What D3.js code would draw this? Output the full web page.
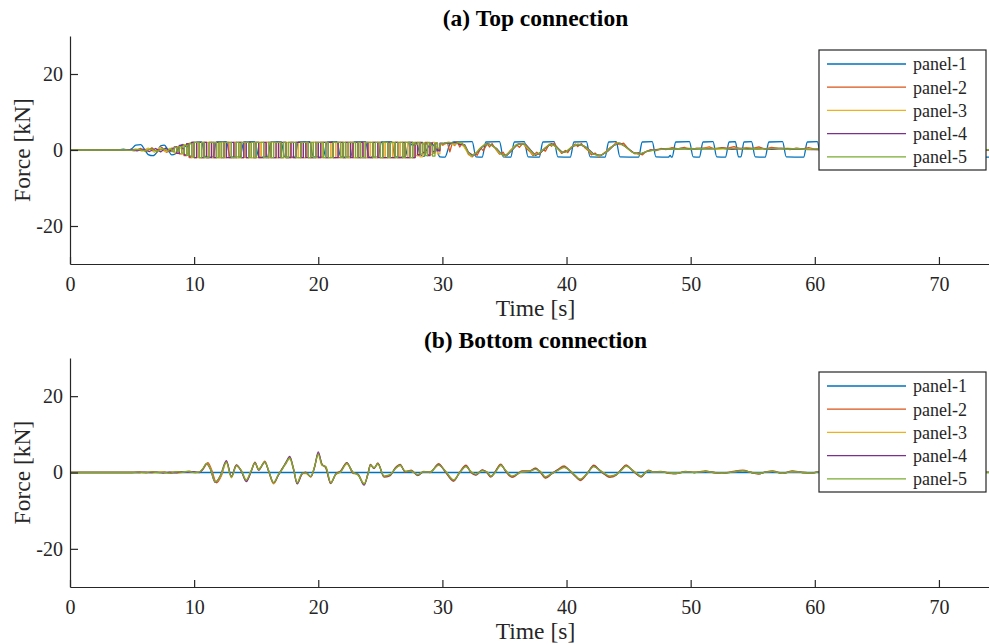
<!DOCTYPE html>
<html><head><meta charset="utf-8">
<script src="https://cdn.jsdelivr.net/npm/d3@7"></script>
<style>body{margin:0;background:#fff;overflow:hidden}</style>
</head><body><svg id="chart" width="989" height="644"></svg>
<script>
// ---------- DATA ----------
const seriesNames = ["panel-1","panel-2","panel-3","panel-4","panel-5"];
const seriesColors = ["#0072BD","#D95319","#EDB120","#7E2F8E","#77AC30"];
const panelTitles = ["(a) Top connection","(b) Bottom connection"];
const xLabel = "Time [s]";
const yLabel = "Force [kN]";
const xDomain = [0, 75];
const yDomain = [-30, 30];
const xTicks = [0,10,20,30,40,50,60,70];
const yTicks = [-20,0,20];

// top connection: panel-1 (time, force)
const top1 = [[0,0],[3.8,0],[4.3,0.2],[4.7,0],[5.0,0.4],[5.3,1.3],[5.7,1.4],[6.0,0.2],[6.3,-1.2],[6.7,-1.5],[7.0,-0.6],[7.3,1.1],[7.6,1.3],[7.9,0],[8.2,-1.3],[8.5,-1.0],[8.8,0.9],[9.1,1.5],[9.4,0.8],[9.7,1.8],[10.0,2.0],[10.6,2.1],[10.9,-1.8],[11.5,-1.9],[11.8,2.1],[12.6,2.2],[12.9,-1.8],[13.7,-1.9],[14.0,2.1],[14.9,2.2],[15.2,-1.8],[15.9,-1.9],[16.2,2.1],[17.0,2.2],[17.3,-1.8],[18.1,-1.9],[18.4,2.1],[19.3,2.2],[19.6,-1.8],[20.4,-1.9],[20.7,2.1],[21.5,2.2],[21.8,-1.8],[22.6,-1.9],[22.9,2.1],[23.8,2.2],[24.1,-1.8],[24.8,-1.9],[25.1,2.1],[25.9,2.2],[26.2,-1.8],[27.0,-1.9],[27.3,2.1],[27.6,1.2],[27.9,1.8],[28.2,-1.0],[28.5,-1.7],[28.8,0.5],[29.1,1.6],[29.5,0.3],[29.8,-1.8],[30.2,-1.9],[30.6,1.5],[30.9,2.1],[32.4,2.2],[32.7,-1.8],[33.2,-1.9],[33.5,2.1],[34.6,2.2],[34.9,-1.8],[35.5,-1.9],[35.8,2.1],[36.6,2.2],[36.9,-1.8],[37.8,-1.9],[38.1,2.1],[39.0,2.2],[39.3,-1.8],[40.3,-1.9],[40.6,2.1],[41.6,2.2],[41.9,-1.8],[43.1,-1.9],[43.4,2.1],[44.0,2.2],[44.3,-1.8],[45.8,-1.9],[46.1,2.1],[46.9,2.2],[47.2,-1.8],[48.2,-1.9],[48.35,-1.4],[48.45,-1.9],[48.5,-1.9],[48.8,2.1],[49.9,2.2],[50.2,-1.8],[50.7,-1.9],[51.0,2.1],[51.8,2.2],[52.1,-1.8],[52.8,-1.9],[53.1,2.1],[53.6,2.2],[53.85,-1.8],[54.05,-1.8],[54.3,2.1],[54.9,2.2],[55.2,-1.8],[56.0,-1.9],[56.3,2.1],[57.4,2.2],[57.7,-1.8],[59.1,-1.9],[59.4,2.1],[60.2,2.2],[60.5,-1.8],[61.3,-1.9],[61.6,2.1],[62.6,2.2],[62.9,-1.8],[63.8,-1.9],[64.1,2.1],[65.0,2.2],[65.3,-1.8],[66.2,-1.9],[66.5,2.1],[67.5,2.2],[67.8,-1.8],[68.6,-1.9],[68.9,2.1],[70.0,2.2],[70.3,-1.8],[71.1,-1.9],[71.4,2.1],[72.4,2.2],[72.7,-1.8],[75,-1.9]];

// top connection, panels 2-5: start (time, force), fast switching part (values every chatterStep from chatterStart), end (time, force)
const chatterStart = 8.0;
const chatterStep = 0.2;

const top2Start = [[0,0],[4.0,0],[4.6,0.1],[5.2,-0.2],[5.7,0.4],[6.1,-0.4],[6.6,0.6],[7.0,-0.5],[7.4,0.7],[7.8,-0.6]];
const top2Chatter = [-0.3,0.5,-0.6,0.8,-1.0,1.2,-1.5,1.7,-2,2,
 -2,2,-2,-2,2,-2,2,-2,-2,2,
 -2,2,-2,2,-2,-2,2,-2,2,-2,
 2,-2,2,-2,-2,2,-2,2,-2,2,
 -2,2,-2,-2,2,-2,2,-2,2,-2,
 -2,2,-2,2,-2,2,-2,-2,2,-2,
 2,-2,2,-2,-2,2,-2,2,-2,2,
 -2,2,-2,2,-2,-2,2,-2,2,-2,
 2,-2,2,-2,2,-2,-2,2,-2,2,
 -2,2,-2,2,-2,2,-2,2,-2,2,
 -1.5,1.8,-1,2,-1.2,1.5,-0.8,1.9,0.2,1.5,
 1.2];
const top2End = [[30.4,2],[30.6,-0.5],[30.8,1.9],[31.0,1.2],[31.2,2.2],[31.4,0.8],[31.6,1.8],[31.9,0.2],[32.1,-1.2],[32.4,-1.8],[32.6,-0.8],[32.8,-1.4],[33.1,0.5],[33.3,-0.2],[33.6,1.6],[33.8,0.8],[34.0,1.7],[34.3,0.2],[34.6,-1.1],[34.9,-0.6],[35.1,-1.7],[35.4,-0.4],[35.7,0.6],[36.0,1.3],[36.2,0.7],[36.5,1.8],[36.8,0.3],[37.1,-0.6],[37.3,-1.5],[37.6,-0.6],[37.8,-1.2],[38.1,0.1],[38.3,-0.3],[38.6,1.5],[38.8,1.0],[39.0,1.8],[39.3,0.4],[39.6,-0.9],[39.9,-0.1],[40.1,-0.7],[40.4,0.8],[40.7,1.6],[40.9,0.9],[41.2,1.7],[41.5,0.5],[41.8,-0.3],[42.0,-1.3],[42.3,-0.8],[42.6,-1.8],[42.9,-1.1],[43.2,-0.3],[43.5,0.6],[43.8,1.2],[44.0,2.0],[44.3,1.4],[44.6,1.8],[44.9,0.6],[45.2,-0.3],[45.5,-1.0],[45.8,-0.7],[46.1,-1.3],[46.4,-0.4],[46.8,0.1],[47.2,-0.2],[47.6,0.4],[48.0,0.1],[48.5,0.6],[49.0,0.3],[49.5,0.7],[50.0,0.1],[50.5,0.5],[51.0,0.4],[51.5,0.8],[52.0,0.2],[52.5,0.6],[53.0,0.5],[53.5,0.9],[54.0,0.3],[54.5,0.6],[55.0,0.4],[55.5,0.8],[56.0,0.2],[56.5,0.7],[57.0,0.5],[57.5,0.4],[58.0,0.1],[58.5,0.5],[59.0,0.3],[59.5,0.6],[60.0,0.2],[61,0.4],[62,0.1],[63,0.3],[64,0.0],[65,0.3],[66,0.1],[67,0.2],[68,-0.1],[69,0.2],[70,0.0],[71,0.2],[72,-0.1],[73,0.1],[74,0.0],[75,0.1]];

const top3Start = [[0,0],[4.2,0],[4.8,-0.1],[5.3,0.3],[5.8,-0.3],[6.3,0.5],[6.8,-0.6],[7.2,0.6],[7.7,-0.5]];
const top3Chatter = [0.4,-0.2,-0.7,0.9,0.5,-1.1,1.4,-0.9,1.8,-2,
 2,-2,-2,2,-2,2,2,-2,2,-2,
 -2,2,-2,2,2,-2,2,-2,-2,2,
 -2,2,-2,-2,2,-2,2,-2,2,2,
 -2,2,2,-2,2,-2,-2,2,-2,2,
 2,-2,2,-2,-2,2,-2,2,2,-2,
 -2,2,-2,2,2,-2,2,-2,2,-2,
 2,-2,-2,2,-2,2,-2,2,2,-2,
 -2,2,-2,-2,2,-2,2,-2,2,-2,
 2,-2,2,-2,2,-2,2,-2,1.8,-1.5,
 2,-1.8,1.5,-0.5,1.8,-1.2,2,0.8,-1,1.4,
 1.6];
const top3End = [[30.2,1.6],[30.5,2.1],[30.9,1.3],[31.3,1.9],[31.7,1.0],[32.0,-0.5],[32.3,-1.7],[32.7,-0.8],[33.0,0.4],[33.4,1.5],[33.8,1.6],[34.2,0.7],[34.6,-0.8],[35.0,-1.6],[35.4,-0.5],[35.9,1.3],[36.5,1.7],[36.9,0.4],[37.3,-1.2],[37.7,-1.1],[38.1,0.1],[38.6,1.5],[39.0,1.2],[39.5,-0.4],[39.9,-0.6],[40.4,0.8],[40.9,1.6],[41.4,1.1],[42.0,-0.8],[42.6,-1.6],[43.1,-0.8],[43.6,0.8],[44.1,1.8],[44.6,1.2],[45.2,-0.4],[45.8,-1.2],[46.4,-0.5],[46.9,0.0],[47.5,0.2],[48.2,0.4],[49.0,0.2],[49.8,0.5],[50.6,0.3],[51.4,0.5],[52.2,0.2],[53.0,0.4],[53.8,0.3],[54.6,0.5],[55.4,0.2],[56.2,0.4],[57.0,0.3],[57.8,0.5],[58.6,0.2],[59.4,0.3],[60.2,0.1],[62,0.2],[64,0.1],[66,0.2],[68,0.0],[70,0.1],[72,0.0],[75,0.1]];

const top4Start = [[0,0],[4.3,0],[4.9,0.1],[5.4,-0.2],[5.9,0.2],[6.4,-0.4],[6.9,0.4],[7.3,-0.5],[7.7,0.5]];
const top4Chatter = [-0.2,0.3,0.8,-0.9,1.2,0.4,-1.3,1.6,-1.6,2,
 -2,2,2,-2,2,-2,-2,2,-2,2,
 2,-2,2,-2,-2,2,-2,2,2,-2,
 2,-2,2,2,-2,2,-2,-2,2,-2,
 2,-2,-2,2,-2,2,2,-2,-2,2,
 -2,2,2,-2,2,-2,2,-2,-2,2,
 -2,2,2,-2,2,2,-2,-2,2,2,
 -2,2,2,-2,2,2,-2,2,-2,2,
 -2,-2,2,2,-2,2,-2,-2,2,-2,
 -2,2,-2,-2,2,-2,-2,2,-2,1.8,
 -1.2,2,-0.6,1.6,-1.5,1.9,-0.4,1.7,-0.2,1.8,
 1.5];
const top4End = [[30.2,1.9],[30.6,1.7],[31.0,2.0],[31.4,1.5],[31.8,1.4],[32.1,-0.6],[32.5,-1.5],[32.9,-0.3],[33.2,0.8],[33.6,1.7],[34.0,1.2],[34.4,0.3],[34.8,-1.2],[35.2,-1.4],[35.6,-0.1],[36.1,1.6],[36.7,1.5],[37.1,0.0],[37.5,-1.4],[37.9,-0.7],[38.3,0.5],[38.8,1.7],[39.2,0.8],[39.7,-0.7],[40.1,-0.2],[40.6,1.1],[41.1,1.4],[41.6,0.7],[42.2,-1.1],[42.8,-1.4],[43.3,-0.4],[43.8,1.2],[44.3,1.8],[44.8,0.8],[45.4,-0.7],[46.0,-1.0],[46.6,-0.2],[47.1,0.0],[47.8,0.3],[48.5,0.2],[49.3,0.4],[50.1,0.2],[50.9,0.4],[51.7,0.3],[52.5,0.5],[53.3,0.2],[54.1,0.4],[54.9,0.3],[55.7,0.4],[56.5,0.2],[57.3,0.4],[58.1,0.2],[58.9,0.3],[59.7,0.1],[61,0.2],[63,0.1],[65,0.2],[67,0.0],[69,0.1],[71,0.0],[73,0.1],[75,0.0]];

const top5Start = [[0,0],[4.0,0],[4.5,0.05],[5.0,-0.1],[5.5,0.15],[6.0,-0.2],[6.5,0.25],[7.0,-0.3],[7.5,0.3],[7.9,-0.2]];
const top5Chatter = [0.2,-0.4,0.6,-0.3,0.9,-0.8,1.2,-1.4,1.6,-1.8,
 2,2,-2,2,-2,-2,2,2,2,-2,
 2,-2,2,2,2,-2,-2,2,-2,2,
 2,2,-2,2,-2,2,2,2,-2,-2,
 2,-2,2,2,2,-2,2,-2,2,2,
 2,-2,-2,2,2,2,-2,2,-2,2,
 2,2,-2,2,-2,-2,2,2,2,-2,
 2,-2,2,2,2,-2,2,-2,-2,2,
 2,2,-2,2,2,-2,2,2,-2,2,
 2,-2,2,2,-2,2,2,-2,2,1.5,
 2,-1,1.8,-1.5,2,1.2,-1.6,1.8,0.5,1.6,
 1.8];
const top5End = [[30.2,1.8],[30.6,2.0],[31.0,1.6],[31.4,2.0],[31.8,1.2],[32.1,-0.8],[32.4,-1.6],[32.8,-0.5],[33.1,0.6],[33.5,1.6],[33.9,1.4],[34.3,0.5],[34.7,-1.0],[35.1,-1.5],[35.5,-0.3],[36.0,1.5],[36.6,1.6],[37.0,0.2],[37.4,-1.3],[37.8,-0.9],[38.2,0.3],[38.7,1.6],[39.1,1.0],[39.6,-0.6],[40.0,-0.4],[40.5,1.0],[41.0,1.5],[41.5,0.9],[42.1,-1.0],[42.7,-1.5],[43.2,-0.6],[43.7,1.0],[44.2,1.9],[44.7,1.0],[45.3,-0.6],[45.9,-1.1],[46.5,-0.3],[47.0,-0.1],[47.5,0.1],[48.0,0.3],[48.6,0.2],[49.2,0.4],[50.0,0.2],[50.8,0.4],[51.5,0.3],[52.3,0.5],[53.0,0.3],[53.8,0.5],[54.6,0.2],[55.4,0.4],[56.2,0.3],[57.0,0.5],[57.8,0.2],[58.6,0.4],[59.4,0.1],[60.2,0.3],[61,0.1],[62,0.3],[63,0.1],[64,0.2],[65,0.0],[66,0.2],[67,0.0],[68,0.2],[69,0.0],[70,0.1],[71,-0.1],[72,0.1],[73,0.0],[74,0.1],[75,0.0]];

// bottom connection (time, force)
const bot1 = [[0,0],[75,0]];
const bot2 = [[0,0],[5,0],[5.6,0.15],[6.1,-0.1],[6.6,0.2],[7.1,-0.05],[7.6,0.15],[8.1,-0.25],[8.6,0.25],[9.1,0.05],[9.6,0.35],[10.1,-0.05],[10.5,0.2],[10.8,1.2],[11.1,2.6],[11.4,0.8],[11.8,-2.7],[12.2,-0.8],[12.6,2.9],[13.0,-1.0],[13.4,2.0],[13.8,0.3],[14.2,-2.2],[14.6,0.4],[14.9,2.7],[15.2,0.6],[15.7,3.0],[16.0,0.3],[16.4,-2.9],[16.8,-0.6],[17.1,1.1],[17.4,2.3],[17.7,4.0],[18.0,1.2],[18.3,-2.9],[18.7,-0.4],[19.0,0.1],[19.4,-1.2],[19.7,1.3],[20.0,5.0],[20.3,2.2],[20.6,1.2],[21.0,-2.9],[21.4,-0.4],[21.8,0.4],[22.3,2.6],[22.8,-0.2],[23.2,-0.4],[23.7,-3.1],[24.0,-0.2],[24.2,2.1],[24.5,1.0],[24.8,2.5],[25.3,-1.2],[25.8,-0.8],[26.2,1.2],[26.6,2.1],[27.0,0.1],[27.5,0.6],[28.0,-0.8],[28.5,0.3],[29.0,0.0],[29.7,2.3],[30.2,0.3],[30.9,-2.3],[31.4,0.2],[31.9,1.9],[32.3,0.0],[32.7,-0.7],[33.2,0.7],[33.6,-0.1],[33.9,-1.2],[34.2,0.0],[34.7,2.2],[35.1,0.3],[35.6,-1.3],[36.0,-0.6],[36.4,0.4],[37.0,0.4],[37.5,1.2],[37.9,0.0],[38.3,-1.5],[38.8,-0.4],[39.3,0.8],[39.8,1.7],[40.3,0.3],[40.7,-1.0],[41.1,-2.1],[41.6,-0.6],[42.2,1.9],[42.7,0.4],[43.1,-0.6],[43.5,-1.3],[44.0,-0.7],[44.4,0.8],[44.8,2.0],[45.3,0.5],[45.7,-0.6],[46.0,-1.2],[46.3,-0.3],[46.6,0.6],[47.0,0.1],[47.6,0.3],[48.2,-0.2],[48.8,-0.3],[49.6,0.3],[50.3,0.0],[51.2,0.4],[51.9,-0.1],[52.5,-0.2],[53.3,0.2],[54.2,0.6],[54.9,0.0],[55.5,-0.4],[56.0,0.1],[56.6,0.4],[57.4,-0.2],[58.2,0.4],[59.0,0.0],[59.8,-0.1],[60.4,0.3],[61.2,-0.1],[62,0.2],[63,-0.1],[64,0.3],[65,0],[66,0.2],[67,-0.1],[68,0.1],[69,0],[70,0.1],[71,-0.1],[72,0.1],[73,0],[74,0.05],[75,0]];
const bot3 = [[0,0],[5.2,0],[5.7,-0.1],[6.2,0.1],[6.8,-0.1],[7.3,0.2],[7.8,-0.1],[8.3,0.15],[8.8,-0.15],[9.3,0.25],[9.8,0.1],[10.3,0.0],[10.7,0.8],[11.0,2.2],[11.3,1.2],[11.7,-2.4],[12.1,-1.2],[12.6,2.5],[13.0,-1.4],[13.4,1.6],[13.8,0.6],[14.2,-1.9],[14.6,0.6],[14.9,2.3],[15.2,1.0],[15.7,2.6],[16.0,0.6],[16.4,-3.0],[16.8,-0.4],[17.1,0.8],[17.4,2.6],[17.7,3.6],[18.0,0.8],[18.3,-2.6],[18.7,-0.3],[19.0,-0.3],[19.4,-1.1],[19.7,1.6],[20.0,4.7],[20.3,1.8],[20.6,1.7],[21.0,-2.6],[21.4,-0.6],[21.8,0.1],[22.3,2.2],[22.8,0.1],[23.2,-0.7],[23.7,-2.8],[24.0,-0.6],[24.2,1.8],[24.5,1.3],[24.8,2.1],[25.3,-0.9],[25.8,-0.5],[26.2,0.9],[26.6,1.8],[27.0,0.4],[27.5,0.3],[28.0,-0.5],[28.5,0.2],[29.0,0.2],[29.7,1.9],[30.2,0.6],[30.9,-1.9],[31.4,0.1],[31.9,1.5],[32.3,0.3],[32.7,-0.4],[33.2,0.4],[33.6,0.2],[33.9,-0.9],[34.2,-0.2],[34.7,1.8],[35.1,0.6],[35.6,-0.9],[36.0,-0.4],[36.4,0.2],[37.0,0.3],[37.5,0.8],[37.9,0.3],[38.3,-1.1],[38.8,-0.2],[39.3,0.5],[39.8,1.3],[40.3,0.5],[40.7,-0.7],[41.1,-1.7],[41.6,-0.4],[42.2,1.5],[42.7,0.6],[43.1,-0.3],[43.5,-0.9],[44.0,-0.5],[44.4,0.5],[44.8,1.6],[45.3,0.7],[45.7,-0.3],[46.0,-0.9],[46.3,-0.2],[46.6,0.4],[47.0,0.1],[47.6,0.2],[48.2,0.0],[48.8,-0.2],[49.6,0.2],[50.3,0.1],[51.2,0.3],[51.9,0.0],[52.5,-0.1],[53.3,0.1],[54.2,0.4],[54.9,0.1],[55.5,-0.2],[56.0,0.1],[56.6,0.3],[57.4,-0.1],[58.2,0.2],[59.0,0.0],[59.8,-0.1],[60.4,0.2],[62,0.1],[64,0.1],[66,0.1],[68,0],[70,0.1],[72,0],[75,0]];
const bot4 = [[0,0],[5.5,0],[6.0,0.1],[6.5,-0.05],[7.0,0.1],[7.5,-0.15],[8.0,0.1],[8.5,-0.1],[9.0,0.2],[9.5,0.1],[10.0,0.2],[10.4,0.0],[10.7,0.9],[11.0,2.3],[11.3,0.9],[11.7,-2.6],[12.1,-0.9],[12.6,3.1],[13.0,-1.1],[13.4,1.9],[13.8,0.4],[14.2,-2.4],[14.6,0.3],[14.9,2.6],[15.2,0.7],[15.7,2.7],[16.0,0.4],[16.4,-2.7],[16.8,-0.6],[17.1,1.0],[17.4,2.7],[17.7,4.2],[18.0,0.9],[18.3,-3.0],[18.7,-0.3],[19.0,0.0],[19.4,-1.1],[19.7,1.4],[20.0,5.4],[20.3,2.1],[20.6,1.4],[21.0,-2.8],[21.4,-0.5],[21.8,0.3],[22.3,2.5],[22.8,0.0],[23.2,-0.5],[23.7,-3.3],[24.0,-0.4],[24.2,2.0],[24.5,1.1],[24.8,2.4],[25.3,-1.1],[25.8,-0.7],[26.2,1.1],[26.6,2.0],[27.0,0.2],[27.5,0.5],[28.0,-0.7],[28.5,0.2],[29.0,0.1],[29.7,2.1],[30.2,0.4],[30.9,-2.1],[31.4,0.0],[31.9,1.7],[32.3,0.1],[32.7,-0.6],[33.2,0.6],[33.6,0.0],[33.9,-1.1],[34.2,-0.1],[34.7,2.0],[35.1,0.4],[35.6,-1.1],[36.0,-0.5],[36.4,0.3],[37.0,0.3],[37.5,1.0],[37.9,0.1],[38.3,-1.3],[38.8,-0.3],[39.3,0.7],[39.8,1.5],[40.3,0.4],[40.7,-0.9],[41.1,-1.9],[41.6,-0.5],[42.2,1.7],[42.7,0.5],[43.1,-0.5],[43.5,-1.1],[44.0,-0.6],[44.4,0.7],[44.8,1.8],[45.3,0.6],[45.7,-0.5],[46.0,-1.1],[46.3,-0.2],[46.6,0.5],[47.0,0.1],[47.6,0.2],[48.2,-0.1],[48.8,-0.3],[49.6,0.2],[50.3,0.0],[51.2,0.3],[51.9,0.0],[52.5,-0.2],[53.3,0.1],[54.2,0.5],[54.9,0.0],[55.5,-0.3],[56.0,0.1],[56.6,0.3],[57.4,-0.2],[58.2,0.3],[59.0,0.0],[59.8,-0.1],[60.4,0.2],[62,0.1],[64,0.2],[66,0.0],[68,0.1],[70,0],[72,0.1],[75,0]];
const bot5 = [[0,0],[5,0],[5.5,0.1],[6,-0.05],[6.5,0.15],[7,0],[7.5,0.1],[8,-0.2],[8.5,0.2],[9,0.1],[9.5,0.3],[10,0],[10.4,0.1],[10.7,1.0],[11.0,2.4],[11.3,1.0],[11.7,-2.5],[12.1,-1.0],[12.6,2.7],[13.0,-1.2],[13.4,1.8],[13.8,0.5],[14.2,-2.0],[14.6,0.5],[14.9,2.5],[15.2,0.8],[15.7,2.8],[16.0,0.5],[16.4,-2.6],[16.8,-0.5],[17.1,0.9],[17.4,2.5],[17.7,3.8],[18.0,1.0],[18.3,-2.7],[18.7,-0.2],[19.0,-0.1],[19.4,-1.0],[19.7,1.5],[20.0,4.9],[20.3,2.0],[20.6,1.5],[21.0,-2.7],[21.4,-0.5],[21.8,0.2],[22.3,2.4],[22.8,0.0],[23.2,-0.6],[23.7,-3.0],[24.0,-0.5],[24.2,1.9],[24.5,1.2],[24.8,2.3],[25.3,-1.0],[25.8,-0.6],[26.2,1.0],[26.6,1.9],[27.0,0.3],[27.5,0.4],[28.0,-0.6],[28.5,0.2],[29.0,0.1],[29.7,2.0],[30.2,0.5],[30.9,-2.0],[31.4,0.0],[31.9,1.6],[32.3,0.2],[32.7,-0.5],[33.2,0.5],[33.6,0.1],[33.9,-1.0],[34.2,-0.2],[34.7,1.9],[35.1,0.5],[35.6,-1.0],[36.0,-0.5],[36.4,0.2],[37.0,0.3],[37.5,0.9],[37.9,0.2],[38.3,-1.2],[38.8,-0.3],[39.3,0.6],[39.8,1.4],[40.3,0.4],[40.7,-0.8],[41.1,-1.8],[41.6,-0.5],[42.2,1.6],[42.7,0.5],[43.1,-0.4],[43.5,-1.0],[44.0,-0.6],[44.4,0.6],[44.8,1.7],[45.3,0.6],[45.7,-0.4],[46.0,-1.0],[46.3,-0.2],[46.6,0.5],[47.0,0.1],[47.6,0.2],[48.2,-0.1],[48.8,-0.3],[49.6,0.2],[50.3,0.0],[51.2,0.3],[51.9,0.0],[52.5,-0.2],[53.3,0.1],[54.2,0.5],[54.9,0.0],[55.5,-0.3],[56.0,0.1],[56.6,0.3],[57.4,-0.2],[58.2,0.3],[59.0,0.0],[59.8,-0.1],[60.4,0.2],[61.2,-0.1],[62,0.2],[63,-0.1],[64,0.2],[65,0],[66,0.2],[67,-0.1],[68,0.1],[69,0],[70,0.1],[71,-0.1],[72,0.1],[73,0],[74,0.05],[75,0]];

// ---------- BUILD ----------
function piecesFor(start, chatter, end) {
  const chatterPts = chatter.map((v, i) => [chatterStart + i * chatterStep, v]);
  const chatterEnd = chatterPts[chatterPts.length - 1][0];
  const s = start.filter(d => d[0] < chatterStart);
  const e = end.filter(d => d[0] > chatterEnd + 1e-9);
  return [
    {pts: s.concat([chatterPts[0]]), curve: d3.curveLinear},
    {pts: chatterPts, curve: d3.curveStepAfter},
    {pts: [chatterPts[chatterPts.length - 1]].concat(e), curve: d3.curveLinear}
  ];
}
const topSeries = [
  [{pts: top1, curve: d3.curveMonotoneX}],
  piecesFor(top2Start, top2Chatter, top2End),
  piecesFor(top3Start, top3Chatter, top3End),
  piecesFor(top4Start, top4Chatter, top4End),
  piecesFor(top5Start, top5Chatter, top5End)
];
const bottomSeries = [bot1, bot2, bot3, bot4, bot5].map(s => [{pts: s, curve: d3.curveMonotoneX}]);

const FONT = "'Liberation Serif','Times New Roman',serif";
const AXC = "#262626";
const svg = d3.select("#chart");
const plotLeft = 70, plotRight = 1001;
const panels = [
  {top: 36, bottom: 264, data: topSeries, title: panelTitles[0]},
  {top: 358, bottom: 587, data: bottomSeries, title: panelTitles[1]}
];

panels.forEach((p, pi) => {
  const x = d3.scaleLinear().domain(xDomain).range([plotLeft, plotRight]);
  const y = d3.scaleLinear().domain(yDomain).range([p.bottom, p.top]);
  const g = svg.append("g");
  const clipId = "clip" + pi;
  svg.append("defs").append("clipPath").attr("id", clipId)
    .append("rect").attr("x", plotLeft).attr("y", p.top).attr("width", plotRight - plotLeft).attr("height", p.bottom - p.top);

  const lines = g.append("g").attr("clip-path", `url(#${clipId})`);
  p.data.forEach((pieces, si) => {
    pieces.forEach(pc => {
      const gen = d3.line().x(d => x(d[0])).y(d => y(d[1])).curve(pc.curve);
      lines.append("path").attr("d", gen(pc.pts)).attr("fill", "none")
        .attr("stroke", seriesColors[si]).attr("stroke-width", 1.3)
        .attr("stroke-linejoin", "round");
    });
  });

  // axes
  const fmt = d => String(d);
  const xAxis = d3.axisBottom(x).tickValues(xTicks).tickSize(-7).tickSizeOuter(0).tickFormat(fmt);
  const yAxis = d3.axisLeft(y).tickValues(yTicks).tickSize(-8).tickSizeOuter(0).tickFormat(fmt);
  const gx = g.append("g").attr("transform", `translate(0,${p.bottom})`).call(xAxis);
  const gy = g.append("g").attr("transform", `translate(${plotLeft},0)`).call(yAxis);
  [gx, gy].forEach(a => {
    a.select(".domain").attr("stroke", AXC).attr("stroke-width", 1.2);
    a.selectAll(".tick line").attr("stroke", AXC).attr("stroke-width", 1.2);
    a.selectAll("text").attr("fill", AXC).attr("font-family", FONT).attr("font-size", 20);
  });
  gx.selectAll(".tick text").attr("dy", "0.71em").attr("y", 13);
  gy.selectAll(".tick text").attr("x", -7);

  // labels
  g.append("text").attr("x", (plotLeft + plotRight) / 2).attr("y", p.bottom + 52)
    .attr("text-anchor", "middle").attr("font-family", FONT).attr("font-size", 23.5).attr("fill", AXC).text(xLabel);
  g.append("text").attr("transform", `translate(30,${(p.top + p.bottom) / 2}) rotate(-90)`)
    .attr("text-anchor", "middle").attr("font-family", FONT).attr("font-size", 23.5).attr("fill", AXC).text(yLabel);
  g.append("text").attr("x", (plotLeft + plotRight) / 2).attr("y", p.top - 10)
    .attr("text-anchor", "middle").attr("font-family", FONT).attr("font-size", 23.5).attr("font-weight", "bold").attr("fill", "#000").text(p.title);

  // legend
  const lg = g.append("g").attr("transform", `translate(819,${p.top + 14})`);
  lg.append("rect").attr("x", 0).attr("y", 0).attr("width", 167).attr("height", 120)
    .attr("fill", "#fff").attr("stroke", AXC).attr("stroke-width", 1.2);
  seriesNames.forEach((n, i) => {
    const yy = 14 + i * 23.2;
    lg.append("line").attr("x1", 8).attr("x2", 87).attr("y1", yy).attr("y2", yy)
      .attr("stroke", seriesColors[i]).attr("stroke-width", 1.3);
    lg.append("text").attr("x", 94).attr("y", yy).attr("dy", "0.35em")
      .attr("font-family", FONT).attr("font-size", 18).attr("fill", AXC).text(n);
  });
});
</script></body></html>
